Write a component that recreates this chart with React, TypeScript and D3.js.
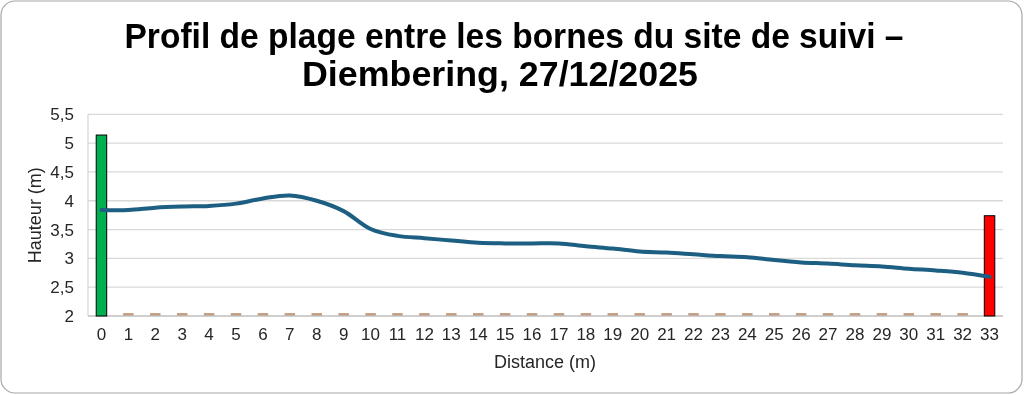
import React from "react";
import * as d3 from "d3";

const distances: string[] = Array.from({ length: 34 }, (_, i) => String(i));
const profil: number[] = [3.84, 3.84, 3.88, 3.9, 3.91, 3.95, 4.04, 4.09, 4.0, 3.82, 3.51, 3.39, 3.35, 3.31, 3.27, 3.26, 3.26, 3.26, 3.21, 3.17, 3.12, 3.1, 3.07, 3.04, 3.02, 2.97, 2.93, 2.91, 2.88, 2.86, 2.82, 2.79, 2.75, 2.68];
const borneDepart: (number | null)[] = [5.14, ...Array(33).fill(null)];
const borneArrivee: (number | null)[] = [...Array(33).fill(null), 3.74];
const sable: (number | null)[] = [null, 2.05, 2.05, 2.05, 2.05, 2.05, 2.05, 2.05, 2.05, 2.05, 2.05, 2.05, 2.05, 2.05, 2.05, 2.05, 2.05, 2.05, 2.05, 2.05, 2.05, 2.05, 2.05, 2.05, 2.05, 2.05, 2.05, 2.05, 2.05, 2.05, 2.05, 2.05, 2.05, null];
const yTicks: number[] = [2, 2.5, 3, 3.5, 4, 4.5, 5, 5.5];

const W = 1024, H = 395;
const plot = { left: 88, right: 1003, top: 114.3, bottom: 316 };
const font = "'Liberation Sans', Arial, sans-serif";

export default function App() {
  const x = d3.scaleBand<string>().domain(distances).range([plot.left, plot.right]).paddingInner(0.61).paddingOuter(0.305);
  const xc = (i: number) => (x(distances[i]) as number) + x.bandwidth() / 2;
  const y = d3.scaleLinear().domain([2, 5.5]).range([plot.bottom, plot.top]);
  const line = d3.line<number>().x((_, i) => xc(i)).y((d) => y(d)).curve(d3.curveCatmullRom.alpha(0.5));
  const fmt = (v: number) => String(v).replace(".", ",");

  const bars = (vals: (number | null)[], fill: string, stroke: string | null) =>
    vals.map((v, i) =>
      v == null ? null : (
        <rect key={i} x={x(distances[i])} y={y(v)} width={x.bandwidth()} height={y(2) - y(v)} fill={fill}
          stroke={stroke ?? "none"} strokeWidth={stroke ? 1 : 0} />
      )
    );

  return (
    <svg width={W} height={H} style={{ position: "fixed", left: 0, top: 0 }} fontFamily={font}>
      <rect x={1} y={1} width={W - 3} height={H - 3} rx={14} ry={14} fill="#fff" stroke="#a6a6a6" strokeWidth={1.2} />
      <text x={514} y={48} textAnchor="middle" fontSize={35} fontWeight="bold" fill="#000" textLength={779} lengthAdjust="spacingAndGlyphs">Profil de plage entre les bornes du site de suivi –</text>
      <text x={500} y={86} textAnchor="middle" fontSize={35} fontWeight="bold" fill="#000" textLength={396} lengthAdjust="spacingAndGlyphs">Diembering, 27/12/2025</text>
      {yTicks.map((t) => (
        <g key={t}>
          {t > 2 && <line x1={plot.left} x2={plot.right} y1={y(t)} y2={y(t)} stroke="#d9d9d9" strokeWidth={1.3} />}
          <text x={74} y={y(t) + 6} textAnchor="end" fontSize={17} fill="#262626">{fmt(t)}</text>
        </g>
      ))}
      <line x1={plot.left} x2={plot.left} y1={plot.top} y2={plot.bottom} stroke="#d9d9d9" strokeWidth={1.3} />
      {bars(sable, "#c49a7c", null)}
      <line x1={plot.left} x2={plot.right} y1={plot.bottom} y2={plot.bottom} stroke="#bfbfbf" strokeWidth={1.5} />
      {bars(borneDepart, "#00b050", "#000")}
      {bars(borneArrivee, "#ff0000", "#000")}
      <path d={line(profil) ?? ""} fill="none" stroke="#1d5f82" strokeWidth={4} strokeLinejoin="round" strokeLinecap="round" />
      {distances.map((d, i) => (
        <text key={d} x={xc(i)} y={340} textAnchor="middle" fontSize={17} fill="#262626">{d}</text>
      ))}
      <text x={545} y={368} textAnchor="middle" fontSize={18} fill="#262626">Distance (m)</text>
      <text transform={`translate(41,${(plot.top + plot.bottom) / 2}) rotate(-90)`} textAnchor="middle" fontSize={18} fill="#262626">Hauteur (m)</text>
    </svg>
  );
}
